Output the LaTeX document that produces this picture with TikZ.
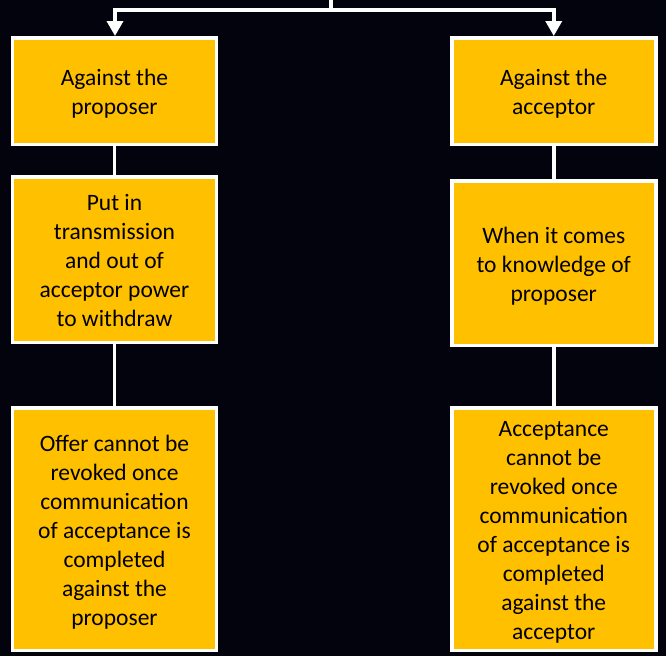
\documentclass[tikz,border=0pt]{standalone}
\usepackage{fontspec}
\setmainfont{Carlito}
\usetikzlibrary{arrows.meta}
\definecolor{bg}{HTML}{03030E}
\definecolor{boxfill}{HTML}{FFC000}
% fixed line struts so every box centres its lines the same way
\newcommand{\topstrut}{\rule{0pt}{24pt}}
\newcommand{\botstrut}{\rule[-6pt]{0pt}{6pt}}
\begin{document}
\begin{tikzpicture}[x=1pt,y=-1pt,
  card/.style={draw=white, line width=3.5pt, fill=boxfill, align=center,
    text=black, font=\fontsize{23.5}{29}\selectfont, inner sep=0pt,
    minimum width=204pt},
  link/.style={draw=white, line width=3.5pt},
  tip/.style={-{Triangle[width=16pt,length=15pt]}}]
  \fill[bg] (0,0) rectangle (666,656);
  \useasboundingbox (0,0) rectangle (666,656);

  % left branch
  \node[card, minimum height=106.5pt] (lp) at (114.5,91)
    {\topstrut Against the\\proposer\botstrut};
  \node[card, minimum height=165.5pt] (lt) at (114.5,259.5)
    {\topstrut Put in\\transmission\\and out of\\acceptor power\\to withdraw\botstrut};
  \node[card, minimum height=242.5pt] (lo) at (114.5,529)
    {\topstrut Offer cannot be\\revoked once\\communication\\of acceptance is\\completed\\against the\\proposer\botstrut};

  % right branch
  \node[card, minimum height=106.5pt] (ra) at (553.75,91)
    {\topstrut Against the\\acceptor\botstrut};
  \node[card, minimum height=164.5pt] (rk) at (553.75,263)
    {\topstrut When it comes\\to knowledge of\\proposer\botstrut};
  \node[card, minimum height=242.5pt] (rr) at (553.75,529)
    {\topstrut Acceptance\\cannot be\\revoked once\\communication\\of acceptance is\\completed\\against the\\acceptor\botstrut};

  % split from the parent
  \coordinate (stem) at (331,-2);
  \coordinate (fork) at (331,10);
  \draw[link] (stem) -- (fork);
  \draw[link, tip] (fork) -| ([xshift=0.5pt]lp.north);
  \draw[link, tip] (fork) -| (ra.north);

  % vertical links inside each branch
  \draw[link] (lp.south) -- (lt.north);
  \draw[link] (lt.south) -- (lo.north);
  \draw[link] (ra.south) -- (rk.north);
  \draw[link] (rk.south) -- (rr.north);
\end{tikzpicture}
\end{document}
